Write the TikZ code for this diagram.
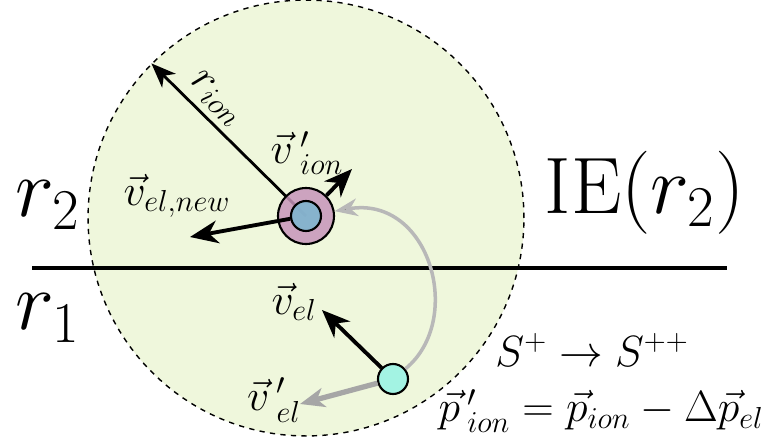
\documentclass[tikz,border=0pt]{standalone}
\usepackage{amsmath}
\usepackage{amssymb}
\usetikzlibrary{positioning,arrows.meta}

\definecolor{zonegreen}{HTML}{EFF7DC}
\definecolor{ringpink}{HTML}{C795BA}
\definecolor{coreblue}{HTML}{80B5CF}
\definecolor{elcyan}{HTML}{A3F3E3}

\tikzset{
  zone/.style={circle, draw, dashed, line width=0.8pt, fill=zonegreen, minimum size=8.72cm, inner sep=0pt},
  ring/.style={circle, draw, line width=1.2pt, fill=ringpink, fill opacity=0.85, minimum size=1.12cm, inner sep=0pt},
  core/.style={circle, draw, line width=1.2pt, fill=coreblue, fill opacity=0.9, minimum size=0.6cm, inner sep=0pt},
  electron/.style={circle, draw, line width=1.2pt, fill=elcyan, minimum size=0.6cm, inner sep=0pt},
  vec/.style={line width=2.2pt, -{Stealth[length=16pt, width=13pt, inset=5pt]}},
  thin vec/.style={line width=1.6pt, -{Stealth[length=14pt, width=11pt, inset=4pt]}},
  trail/.style={line width=2pt, black!28, -{Stealth[length=13pt, width=10pt, inset=4pt, fill=black!55]}},
  lbl/.style={font=\fontsize{24}{28}\selectfont, inner sep=0pt},
  biglbl/.style={lbl, scale=1.9}
}

\begin{document}
\begin{tikzpicture}[x=0.02cm, y=-0.02cm]
    \useasboundingbox (0,0) rectangle (769,443);

    \node [zone] (zone) at (306,218) {};
    \draw [line width=2.2pt] (32,268) -- (727,268);

    % ion with its radius
    \coordinate (ionc) at (306,216);
    \draw [thin vec] (ionc) -- (zone.135);
    \node [ring] (ion) at (ionc) {};
    \node [core] (core) at (ionc) {};
    \draw [vec] (ion.45) -- (352,169);
    \draw [vec] (core.190) -- (190,237);

    % electron
    \node [electron] (el) at (393,379) {};
    \coordinate (vout) at (300,404);
    \draw [trail] (el) .. controls (465,320) and (430,195) .. (ion);
    \draw [line width=3pt, black!35, -{Stealth[length=14pt, width=11pt, inset=4pt, fill=black!55]}] (el) -- (vout);
    \draw [vec] (el) -- (322,310);

    \node [lbl, rotate=-45] (rion) at (216,99) {$r_{ion}$};
    \node [lbl] (vion) at (307,153) {$\vec{v}\,'_{ion}$};
    \node [lbl] (velnew) at (177,196) {$\vec{v}_{el,new}$};
    \node [lbl] (vel) at (294,302) {$\vec{v}_{el}$};
    \node [lbl] (velp) at (274,400) {$\vec{v}\,'_{el}$};

    \node [biglbl] (r2) at (48,205) {$r_2$};
    \node [biglbl] (r1) at (48,318) {$r_1$};
    \node [biglbl] (ie) at (645,193) {IE$(r_2)$};

    \node [lbl] (ionize) at (592,350) {$S^+ \rightarrow S^{++}$};
    \node [lbl] (momentum) at (601,411) {$\vec{p}\,'_{ion} = \vec{p}_{ion} - \Delta\vec{p}_{el}$};
\end{tikzpicture}
\end{document}
